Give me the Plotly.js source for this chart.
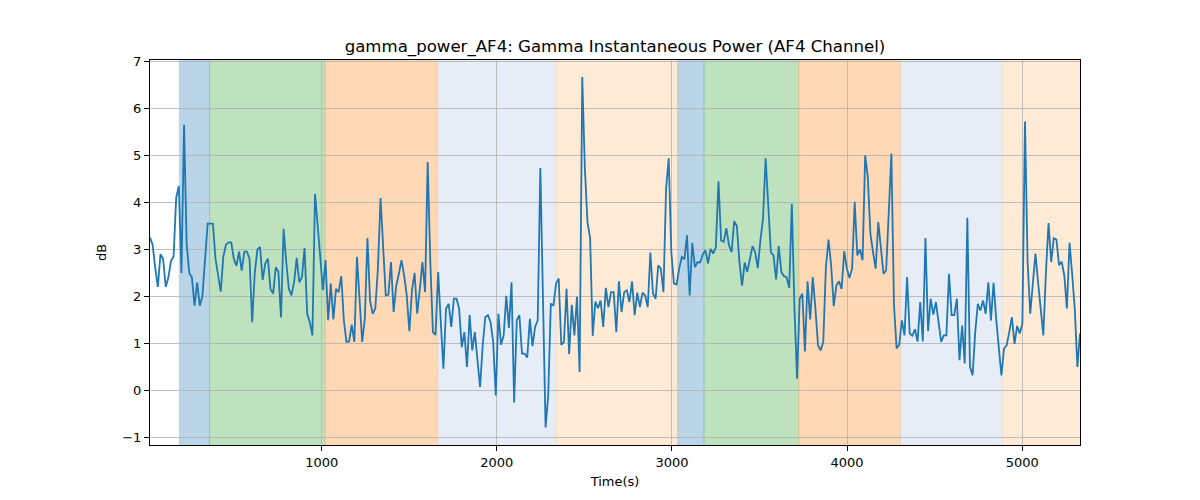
<!DOCTYPE html>
<html>
<head>
<meta charset="utf-8">
<script src="https://cdn.plot.ly/plotly-3.0.1.min.js"></script>
<style>
  html, body { margin: 0; padding: 0; background: #ffffff; }
  #chart { width: 1200px; height: 500px; }
</style>
</head>
<body>
<div id="chart"></div>
<script>
// time span of the recording (s), samples are evenly spaced
const timeStart = 19.4;
const timeEnd = 5330;

// gamma power values (dB), read left to right
const powerDb = [
  3.25, 3.1, 2.6, 2.2, 2.9, 2.8, 2.2, 2.4, 2.75, 2.85, 4.1, 4.35, 2.5, 5.65, 3.1, 2.5,
  2.4, 1.8, 2.3, 1.8, 2.0, 2.9, 3.55, 3.55, 3.55, 2.8, 2.4, 2.1, 2.85, 3.1, 3.15, 3.15,
  2.8, 2.65, 2.95, 2.55, 2.95, 2.95, 2.8, 1.45, 2.5, 3.0, 3.05, 2.35, 2.7, 2.8, 2.15,
  2.06, 2.62, 2.53, 1.55, 3.44, 2.73, 2.16, 2.02, 2.3, 2.82, 2.3, 2.41, 3.03, 1.63, 1.45,
  1.17, 4.18, 3.51, 2.87, 2.13, 2.77, 1.49, 2.27, 1.51, 2.16, 2.09, 2.43, 1.49, 1.03, 1.04,
  1.4, 1.03, 2.84, 1.88, 1.03, 1.52, 3.24, 1.91, 1.63, 1.74, 2.59, 4.09, 3.16, 2.02,
  2.04, 2.73, 1.67, 2.23, 2.48, 2.77, 2.45, 2.02, 1.26, 2.13, 2.5, 1.63, 2.16, 2.73, 2.09,
  4.86, 2.73, 1.24, 1.18, 2.52, 1.45, 0.46, 1.74, 1.84, 1.35, 1.95, 1.95, 1.74, 0.92, 1.24,
  0.5, 1.6, 0.85, 1.24, 0.64, 0.07, 0.96, 1.56, 1.6, 1.45, 1.03, -0.11, 1.63,
  0.97, 1.17, 2.01, 1.33, 2.3, -0.26, 1.49, 1.6, 0.78, 0.78, 0.7, 1.52, 0.94, 1.35, 1.49,
  4.73, 2.02, -0.79, -0.11, 1.84, 1.81, 2.27, 2.38, 0.97, 1.03, 2.16, 0.77, 1.82, 1.17, 1.99,
  0.39, 6.67, 4.72, 3.58, 3.24, 1.16, 1.89, 1.75, 1.91, 1.35, 2.18, 1.77, 2.09, 2.09,
  1.24, 2.32, 1.67, 2.09, 2.13, 1.88, 2.32, 1.6, 2.08, 1.77, 2.08, 2.02, 1.77, 2.93, 2.06,
  1.95, 2.66, 2.59, 2.09, 4.29, 4.94, 2.94, 2.27, 2.25, 2.59, 2.84, 2.79, 3.3, 2.02, 3.14,
  2.62, 2.73, 2.72, 2.89, 2.98, 2.7, 3.01, 2.91, 3.05, 4.45, 3.19, 3.16, 3.45, 3.09,
  2.94, 3.6, 3.5, 2.73, 2.23, 2.72, 2.52, 2.8, 3.07, 2.94, 2.6, 3.19, 3.65, 4.94, 3.79,
  2.94, 2.87, 2.36, 3.07, 2.52, 2.43, 2.41, 2.18, 3.97, 1.74, 0.25, 1.95, 2.06, 0.83, 2.32,
  1.51, 2.41, 1.74, 0.96, 0.85, 1.03, 2.62, 3.21, 2.66, 1.79, 2.23, 2.32, 2.16, 2.96,
  2.59, 2.39, 2.59, 4.01, 2.87, 3.0, 2.77, 5.0, 4.54, 3.33, 2.94, 2.59, 3.58, 2.94, 2.48,
  2.55, 3.72, 5.04, 1.81, 0.89, 0.97, 1.49, 1.17, 2.41, 1.21, 1.16, 1.3, 1.04, 1.88, 1.04,
  3.24, 1.26, 1.95, 1.61, 1.88, 1.45, 1.03, 1.17, 1.17, 2.48, 1.6, 1.6, 1.95, 0.64,
  1.38, 0.57, 3.67, 0.5, 0.32, 1.24, 1.84, 1.7, 1.91, 1.63, 2.3, 1.49, 2.29, 1.52, 0.99,
  0.32, 0.89, 0.96, 1.24, 1.56, 0.99, 1.37, 1.21, 1.42, 5.72, 2.73, 1.63, 2.3, 2.91, 2.3,
  1.74, 1.17, 2.52, 3.56, 2.73, 3.24, 3.21, 2.66, 2.74, 2.45, 1.74, 3.14, 2.48, 1.74, 0.5,
  1.21
];

// shaded segments (s) and their state
const segmentStarts = [187, 360, 1019, 1663, 2337, 3034, 3183, 3724, 4305, 4888];
const segmentEnds = [360, 1019, 1663, 2337, 3034, 3183, 3724, 4305, 4888, 5330];
const segmentStates = ["A", "B", "C", "D", "E", "A", "B", "C", "D", "E"];

const stateColors = {
  A: "#1f77b4",
  B: "#2ca02c",
  C: "#ff7f0e",
  D: "#aec7e8",
  E: "#ffbb78",
};

const timeStep = (timeEnd - timeStart) / (powerDb.length - 1);
const timeSec = powerDb.map((_, i) => timeStart + i * timeStep);

const shapes = segmentStarts.map((start, i) => ({
  type: "rect",
  xref: "x",
  yref: "paper",
  x0: start,
  x1: segmentEnds[i],
  y0: 0,
  y1: 1,
  fillcolor: stateColors[segmentStates[i]],
  opacity: 0.3,
  line: { color: stateColors[segmentStates[i]], width: 1 },
  layer: "below",
}));

const data = [
  {
    type: "scatter",
    mode: "lines",
    x: timeSec,
    y: powerDb,
    line: { color: "#1f77b4", width: 1.8 },
    hoverinfo: "x+y",
  },
];

const axisCommon = {
  showline: true,
  linecolor: "#000000",
  linewidth: 1,
  mirror: true,
  ticks: "outside",
  ticklen: 5,
  tickcolor: "#000000",
  showgrid: true,
  gridcolor: "#b0b0b0",
  gridwidth: 0.8,
  zeroline: false,
  tickfont: { family: "DejaVu Sans", size: 13, color: "#000000" },
};

const layout = {
  width: 1200,
  height: 500,
  paper_bgcolor: "#ffffff",
  plot_bgcolor: "#ffffff",
  margin: { l: 150, r: 120, t: 60, b: 55 },
  showlegend: false,
  font: { family: "DejaVu Sans", color: "#000000" },
  title: {
    text: "gamma_power_AF4: Gamma Instantaneous Power (AF4 Channel)",
    font: { family: "DejaVu Sans", size: 16.6, color: "#000000" },
    x: 0.5125,
    xanchor: "center",
    yref: "container",
    y: 0.908,
    yanchor: "middle",
  },
  xaxis: {
    ...axisCommon,
    range: [timeStart, timeEnd],
    tickvals: [1000, 2000, 3000, 4000, 5000],
    title: { text: "Time(s)", font: { family: "DejaVu Sans", size: 13, color: "#000000" }, standoff: 8 },
  },
  yaxis: {
    ...axisCommon,
    range: [-1.163, 7.03],
    tickvals: [-1, 0, 1, 2, 3, 4, 5, 6, 7],
    ticktext: ["\u22121", "0", "1", "2", "3", "4", "5", "6", "7"],
    title: { text: "dB", font: { family: "DejaVu Sans", size: 13, color: "#000000" }, standoff: 12 },
  },
  shapes,
};

Plotly.newPlot("chart", data, layout, { displayModeBar: false, staticPlot: true });
</script>
</body>
</html>
